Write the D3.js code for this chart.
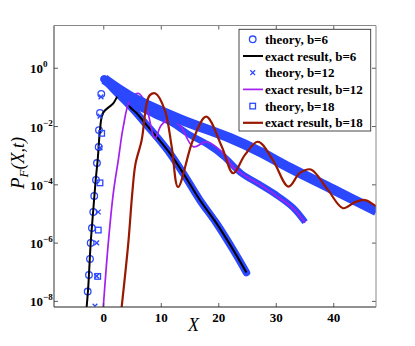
<!DOCTYPE html>
<html>
<head>
<meta charset="utf-8">
<script src="https://cdn.jsdelivr.net/npm/d3@7/dist/d3.min.js"></script>
<style>
  body { margin: 0; background: #fff; }
  svg { display: block; }
</style>
</head>
<body>
<svg id="chart" width="415" height="346"></svg>
<script>
// ticks
const xTicks = [0, 10, 20, 30, 40]
const yTickExp = [-8, -6, -4, -2, 0]

// theory b=6 (circles): sparse tail on the left, then dense band
const theory6TailX = [-2.71, -2.49, -2.31, -2.19, -1.97, -1.74, -1.57, -1.27, -1.10, -0.80, -0.75, -0.57, -0.35, 0.17]
const theory6TailL = [-7.68, -7.11, -6.56, -6.01, -5.50, -4.95, -4.40, -3.85, -3.27, -2.72, -2.14, -1.55, -0.90, -0.39]
const theory6BandX = [0.17, 2, 4, 5.8, 7.55, 9.3, 11.6, 13.9, 16.8, 19.7, 22.6, 24.9]
const theory6BandL = [-0.39, -0.79, -1.18, -1.56, -1.97, -2.37, -2.94, -3.62, -4.54, -5.34, -6.25, -7.03]

// theory b=12 (crosses)
const theory12TailX = [-1.44, -1.15, -1.15, -0.87, -0.57, -0.57, -0.40]
const theory12TailL = [-8.18, -7.15, -6.01, -4.95, -2.75, -1.66, -1.00]
const theory12BandX = [0.17, 3, 6, 9, 12, 15, 18, 21, 24, 27, 30, 33, 35.1]
const theory12BandL = [-0.39, -0.95, -1.33, -1.62, -1.9, -2.3, -2.62, -3.05, -3.62, -3.98, -4.35, -4.8, -5.3]

// theory b=18 (squares)
const theory18TailX = [-0.97, -0.87, -0.57, -0.28]
const theory18TailL = [-7.16, -5.57, -3.95, -2.25]
const theory18BandX = [0.17, 4.6, 13.3, 22, 27.3, 32.5, 40, 47.5]
const theory18BandL = [-0.39, -0.97, -1.76, -2.41, -2.89, -3.44, -4.18, -4.92]

// exact results (log10 of P)
const exact6X = [-2.89, -2.61, -2.19, -1.74, -1.32, -0.97, -0.57, -0.05, 1.74, 2.9, 3.77, 4.64, 5.81, 7.55, 9.29, 11.6, 13.9, 16.8, 19.7, 22.6, 24.9]
const exact6L = [-8.21, -7.51, -6.02, -4.88, -3.85, -3.16, -2.14, -1.55, -1.22, -0.88, -0.97, -1.34, -1.56, -1.97, -2.37, -2.94, -3.62, -4.54, -5.34, -6.25, -7.03]
const exact12X = [0, 0.87, 1.74, 2.61, 3.48, 4.64, 6.09, 7.25, 8.99, 10.0, 11.3, 13.3, 15.65, 18.0, 20.9, 22.6, 24.9, 27.8, 30.7, 33.0, 35.1]
const exact12L = [-8.21, -6.02, -4.31, -3.17, -2.02, -1.11, -0.88, -1.17, -2.42, -2.0, -1.77, -1.97, -2.71, -2.54, -2.94, -3.42, -3.74, -4.08, -4.48, -4.82, -5.32]
const exact18X = [3.2, 4.35, 5.04, 5.6, 6.68, 7.55, 8.1, 9.08, 10.7, 11.9, 13.0, 15.6, 17.9, 20.6, 22.6, 24.6, 26.9, 29.5, 32.2, 34.2, 36.1, 39.1, 41.7, 43.8, 45.5, 47.5]
const exact18L = [-8.21, -6.02, -4.31, -3.3, -2.48, -1.22, -0.94, -0.88, -1.45, -2.71, -4.09, -2.48, -1.68, -2.7, -3.62, -3.0, -2.54, -3.17, -4.08, -3.61, -3.49, -4.2, -4.82, -4.61, -4.54, -4.77]

const legendLabels = ['theory, b=6', 'exact result, b=6', 'theory, b=12', 'exact result, b=12', 'theory, b=18', 'exact result, b=18']

const blue = '#2b48ff'
const purple = '#a41ff0'
const darkRed = '#991800'
const serif = "'Liberation Serif', 'DejaVu Serif', serif"

const svg = d3.select('#chart')
const plotL = 54, plotR = 376, plotT = 25.5, plotB = 307

const x = d3.scaleLinear().domain([-8.57, 47.43]).range([plotL, plotR])
const y = d3.scaleLog().domain([Math.pow(10, -8.21), Math.pow(10, 1.45)]).range([plotB, plotT])

const pts = (xs, ls) => xs.map((v, i) => [v, Math.pow(10, ls[i])])

svg.append('clipPath').attr('id', 'plotClip')
  .append('rect').attr('x', plotL).attr('y', plotT).attr('width', plotR - plotL).attr('height', plotB - plotT)

const plot = svg.append('g').attr('clip-path', 'url(#plotClip)')

const line = d3.line().x(d => x(d[0])).y(d => y(d[1])).curve(d3.curveCatmullRom.alpha(0.5))

// marker shapes
function circleMarks(data) {
  plot.append('g').selectAll('circle').data(data).join('circle')
    .attr('cx', d => x(d[0])).attr('cy', d => y(d[1])).attr('r', 3.3)
    .attr('fill', 'none').attr('stroke', blue).attr('stroke-width', 1.3)
}
function crossMarks(data) {
  const s = 2.4
  plot.append('g').selectAll('path').data(data).join('path')
    .attr('d', d => {
      const cx = x(d[0]), cy = y(d[1])
      return `M${cx - s},${cy - s}L${cx + s},${cy + s}M${cx - s},${cy + s}L${cx + s},${cy - s}`
    })
    .attr('stroke', blue).attr('stroke-width', 1.3)
}
function squareMarks(data) {
  plot.append('g').selectAll('rect').data(data).join('rect')
    .attr('x', d => x(d[0]) - 2.8).attr('y', d => y(d[1]) - 2.8)
    .attr('width', 5.6).attr('height', 5.6)
    .attr('fill', 'none').attr('stroke', blue).attr('stroke-width', 1.3)
}
function band(data, w, cap) {
  plot.append('path').datum(data).attr('d', line)
    .attr('fill', 'none').attr('stroke', blue).attr('stroke-width', w)
    .attr('stroke-linecap', cap).attr('stroke-linejoin', 'round')
}
function exact(data, color, w) {
  plot.append('path').datum(data).attr('d', line)
    .attr('fill', 'none').attr('stroke', color).attr('stroke-width', w)
}

// same order as the legend
band(pts(theory6BandX, theory6BandL), 7.5, 'round')
circleMarks(pts(theory6TailX, theory6TailL))
exact(pts(exact6X, exact6L), '#000', 2)
band(pts(theory12BandX, theory12BandL), 6.5, 'butt')
crossMarks(pts(theory12TailX, theory12TailL))
exact(pts(exact12X, exact12L), purple, 1.7)
band(pts(theory18BandX, theory18BandL), 10, 'butt')
squareMarks(pts(theory18TailX, theory18TailL))
exact(pts(exact18X, exact18L), darkRed, 2.2)

// axes
const tickFont = g => g.selectAll('text')
  .style('font-family', serif).style('font-weight', 'bold').style('font-size', '13px').attr('fill', '#000')

const xBottom = svg.append('g').attr('transform', `translate(0,${plotB})`)
  .call(d3.axisBottom(x).tickValues(xTicks).tickSizeInner(-4).tickSizeOuter(0).tickPadding(6))
xBottom.call(tickFont)
xBottom.selectAll('text').attr('dy', null).attr('y', 15)

const xTop = svg.append('g').attr('transform', `translate(0,${plotT})`)
  .call(d3.axisTop(x).tickValues(xTicks).tickSizeInner(-4).tickSizeOuter(0).tickFormat(''))

const yLeft = svg.append('g').attr('transform', `translate(${plotL},0)`)
  .call(d3.axisLeft(y).tickValues(yTickExp.map(e => Math.pow(10, e))).tickSizeInner(-4).tickSizeOuter(0).tickFormat(''))
const yRight = svg.append('g').attr('transform', `translate(${plotR},0)`)
  .call(d3.axisRight(y).tickValues(yTickExp.map(e => Math.pow(10, e))).tickSizeInner(-4).tickSizeOuter(0).tickFormat(''))

;[xBottom, xTop, yLeft, yRight].forEach(g => g.select('.domain').remove())
svg.selectAll('.tick line').attr('stroke', '#333').attr('stroke-width', 0.8)

// frame: dark left/bottom, grey top/right
svg.append('line').attr('x1', plotL).attr('x2', plotR).attr('y1', plotB).attr('y2', plotB).attr('stroke', '#222').attr('stroke-width', 1.2)
svg.append('line').attr('x1', plotL).attr('x2', plotL).attr('y1', plotT).attr('y2', plotB).attr('stroke', '#333').attr('stroke-width', 1)
svg.append('line').attr('x1', plotL).attr('x2', plotR).attr('y1', plotT).attr('y2', plotT).attr('stroke', '#888').attr('stroke-width', 1)
svg.append('line').attr('x1', plotR).attr('x2', plotR).attr('y1', plotT).attr('y2', plotB).attr('stroke', '#888').attr('stroke-width', 1)

// y tick labels 10^n
const yLab = svg.append('g').selectAll('text').data(yTickExp).join('text')
  .attr('x', 30).attr('y', d => y(Math.pow(10, d)) + 5.5)
  .style('font-family', serif).style('font-weight', 'bold').style('font-size', '13px')
yLab.append('tspan').text('10')
yLab.append('tspan').attr('dy', -6).style('font-size', '9px').text(d => d === 0 ? '0' : '\u2212' + Math.abs(d))

// axis titles
svg.append('text').attr('x', 193.5).attr('y', 331).attr('text-anchor', 'middle')
  .style('font-family', serif).style('font-style', 'italic').style('font-size', '18px').text('X')

const yTitle = svg.append('text').attr('transform', 'translate(24,163) rotate(-90)').attr('text-anchor', 'middle')
  .style('font-family', serif).style('font-style', 'italic').style('font-size', '19px')
yTitle.append('tspan').text('P')
yTitle.append('tspan').attr('dy', 4).style('font-size', '13px').text('F')
yTitle.append('tspan').attr('dy', -4).style('font-size', '18px').text('(X,t)')

// legend
const legend = svg.append('g')
legend.append('rect').attr('x', 239).attr('y', 29.3).attr('width', 131.7).attr('height', 101.7)
  .attr('fill', '#fff').attr('stroke', '#333').attr('stroke-width', 0.9)
const rowY = i => 39.3 + i * 16.7
legend.selectAll('text').data(legendLabels).join('text')
  .attr('x', 265).attr('y', (d, i) => rowY(i) + 4.5)
  .style('font-family', serif).style('font-weight', 'bold').style('font-size', '13px').text(d => d)
legend.append('circle').attr('cx', 252.7).attr('cy', rowY(0)).attr('r', 3.3)
  .attr('fill', 'none').attr('stroke', blue).attr('stroke-width', 1.3)
legend.append('path').attr('d', `M250.3,${rowY(2) - 2.4}l4.8,4.8M250.3,${rowY(2) + 2.4}l4.8,-4.8`)
  .attr('stroke', blue).attr('stroke-width', 1.3)
legend.append('rect').attr('x', 249.9).attr('y', rowY(4) - 2.8).attr('width', 5.6).attr('height', 5.6)
  .attr('fill', 'none').attr('stroke', blue).attr('stroke-width', 1.3)
;[['#000', 1, 2], [purple, 3, 1.7], [darkRed, 5, 2.2]].forEach(([c, i, w]) => {
  legend.append('line').attr('x1', 243).attr('x2', 263).attr('y1', rowY(i)).attr('y2', rowY(i))
    .attr('stroke', c).attr('stroke-width', w)
})
</script>
</body>
</html>
